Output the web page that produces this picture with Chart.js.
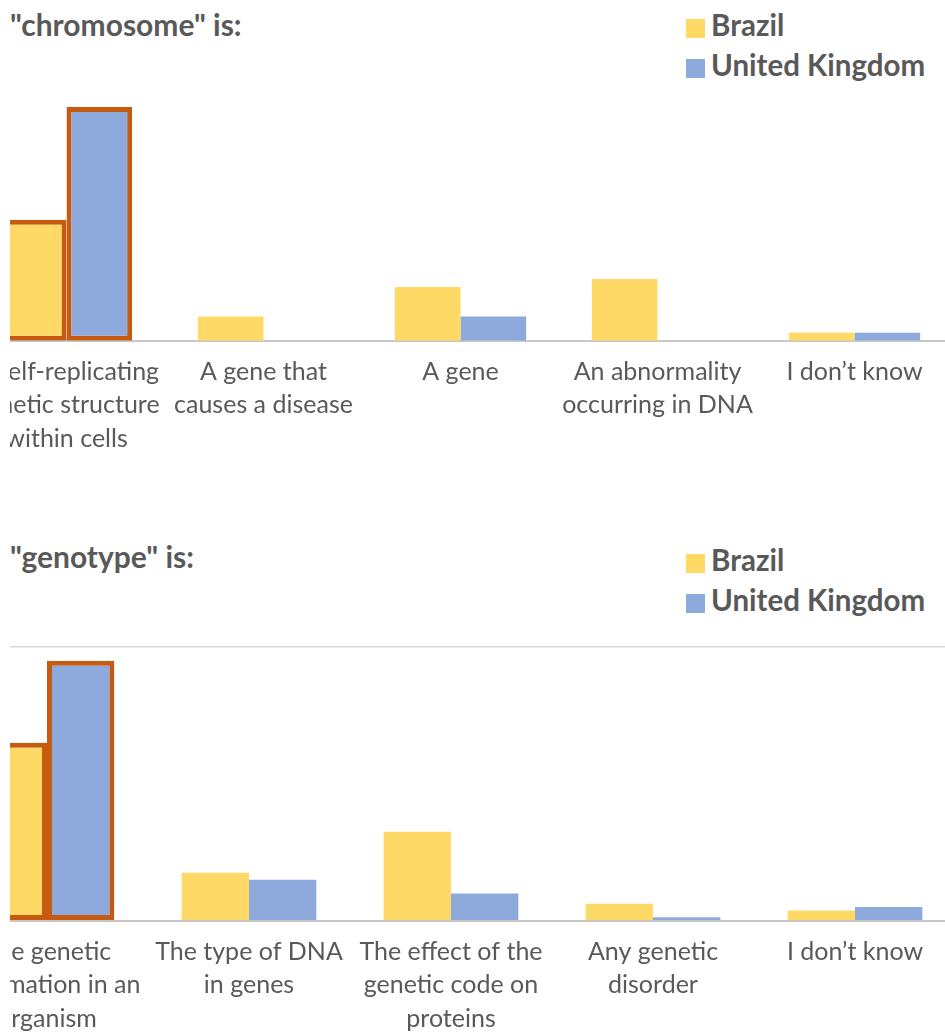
<!DOCTYPE html>
<html>
<head>
<meta charset="utf-8">
<script src="https://cdn.jsdelivr.net/npm/chart.js@4.4.1/dist/chart.umd.min.js"></script>
<style>
  body { margin: 0; background: #fff; width: 945px; height: 1033px; overflow: hidden; position: relative; font-family: Lato, sans-serif; color: #595959; }
  .panel { position: absolute; left: 10px; width: 935px; overflow: hidden; }
  .panel canvas { position: absolute; }
  .title { position: absolute; left: 10px; font-weight: bold; font-size: 30px; line-height: 34px; white-space: nowrap; }
  .legend { position: absolute; left: 686px; font-weight: bold; font-size: 29.5px; }
  .legend .row { height: 40px; line-height: 40px; white-space: nowrap; }
  .legend .sw { display: inline-block; width: 19px; height: 19px; margin-right: 6px; vertical-align: -2px; }
</style>
</head>
<body>

<div class="title" style="top:7px">"chromosome" is:</div>
<div class="legend" id="legendTop" style="top:5px"></div>
<div class="panel" style="top:0; height:460px">
  <canvas id="chromosomeChart" width="1045" height="410" style="left:-71.6px; top:60px"></canvas>
</div>

<div class="title" style="top:539px">"genotype" is:</div>
<div class="legend" id="legendBottom" style="top:540px"></div>
<div class="panel" style="top:460px; height:573px">
  <canvas id="genotypeChart" width="1070" height="415" style="left:-94px; top:175px"></canvas>
</div>

<script>
const seriesNames = ['Brazil', 'United Kingdom'];
const seriesColors = ['#FFD966', '#8EA9DB'];
const highlightColor = '#C55A11';

const chromosomeLabels = [
  ['A self-replicating', 'genetic structure', 'within cells'],
  ['A gene that', 'causes a disease'],
  ['A gene'],
  ['An abnormality', 'occurring in DNA'],
  ['I don\u2019t know']
];
const chromosomeBrazil = [45, 9, 20, 23, 3];
const chromosomeUK = [87, 0, 9, 0, 3];

const genotypeLabels = [
  ['The genetic', 'information in an', 'organism'],
  ['The type of DNA', 'in genes'],
  ['The effect of the', 'genetic code on', 'proteins'],
  ['Any genetic', 'disorder'],
  ['I don\u2019t know']
];
const genotypeBrazil = [52, 14, 26, 5, 3];
const genotypeUK = [76, 12, 8, 1, 4];

// the correct answer is always the first category
const correctIndex = 0;

function buildLegend(id) {
  const box = document.getElementById(id);
  seriesNames.forEach(function (name, i) {
    const row = document.createElement('div');
    row.className = 'row';
    const sw = document.createElement('span');
    sw.className = 'sw';
    sw.style.background = seriesColors[i];
    row.appendChild(sw);
    row.appendChild(document.createTextNode(name));
    box.appendChild(row);
  });
}

function makeDataset(i, values) {
  return {
    label: seriesNames[i],
    data: values,
    backgroundColor: seriesColors[i],
    borderColor: function (ctx) { return ctx.dataIndex === correctIndex ? highlightColor : 'rgba(0,0,0,0)'; },
    borderWidth: function (ctx) { return ctx.dataIndex === correctIndex ? 5 : 0; },
    borderSkipped: false,
    categoryPercentage: 2 / 3,
    barPercentage: 1
  };
}

function drawChart(canvasId, labels, brazil, uk, yMax, topLine) {
  const ctx = document.getElementById(canvasId).getContext('2d');
  return new Chart(ctx, {
    type: 'bar',
    data: {
      labels: labels,
      datasets: [makeDataset(0, brazil), makeDataset(1, uk)]
    },
    options: {
      responsive: false,
      animation: false,
      layout: { padding: { left: 30, right: 30, top: 12, bottom: 0 } },
      plugins: {
        legend: { display: false },
        title: { display: false },
        tooltip: { enabled: false }
      },
      scales: {
        x: {
          grid: { display: false, drawTicks: false },
          border: { display: true, color: '#C8C8C8', width: 2 },
          ticks: {
            color: '#595959',
            font: { family: 'Lato', size: 25, lineHeight: 1.35 },
            padding: 14,
            maxRotation: 0,
            autoSkip: false
          }
        },
        y: {
          display: topLine,
          min: 0,
          max: yMax,
          ticks: { display: false, stepSize: yMax },
          grid: {
            drawTicks: false,
            lineWidth: 1.5,
            color: function (c) { return c.tick && c.tick.value === yMax ? '#D9D9D9' : 'rgba(0,0,0,0)'; }
          },
          border: { display: false }
        }
      }
    }
  });
}

buildLegend('legendTop');
buildLegend('legendBottom');
drawChart('chromosomeChart', chromosomeLabels, chromosomeBrazil, chromosomeUK, 100, false);
drawChart('genotypeChart', genotypeLabels, genotypeBrazil, genotypeUK, 80, true);
</script>
</body>
</html>
